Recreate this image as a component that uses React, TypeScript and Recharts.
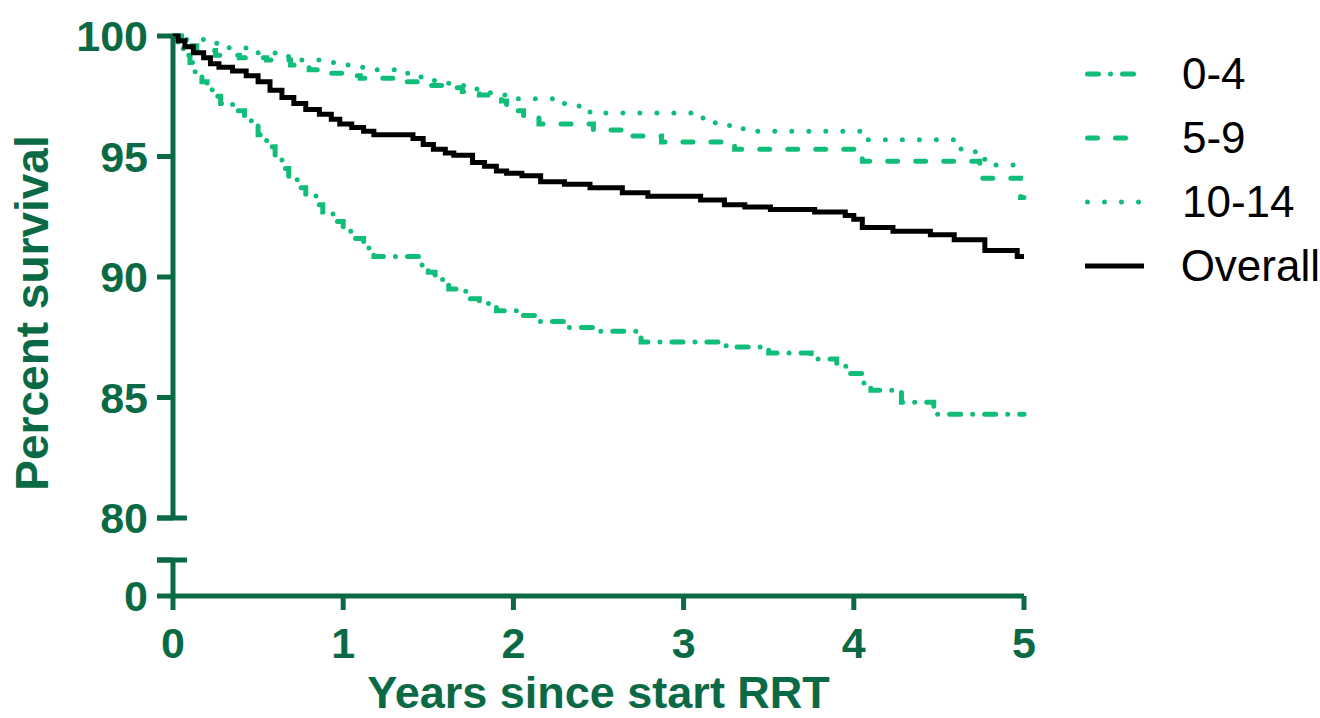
import React from 'react';
import { LineChart, Line, XAxis, YAxis, Legend, Label } from 'recharts';

const AXIS = '#0a6a45';
const GREEN = '#10be7a';
const FONT = '"Liberation Sans", Arial, Helvetica, sans-serif';

// Tick values
const xTicks = [0, 1, 2, 3, 4, 5];
const yTicksMain = [80, 85, 90, 95, 100];
const yTicksLow = [0, 1]; // 1 = top of the broken lower segment (no label)

// Kaplan-Meier curves (years, percent survival)
const tAge04 = [0, 0.03, 0.06, 0.1, 0.13, 0.17, 0.2, 0.23, 0.28, 0.35, 0.42, 0.46, 0.5, 0.55, 0.6, 0.64, 0.68, 0.73, 0.78, 0.84, 0.88, 0.94, 1.0, 1.06, 1.12, 1.18, 1.45, 1.5, 1.54, 1.62, 1.72, 1.8, 1.9, 2.05, 2.15, 2.3, 2.5, 2.75, 3.25, 3.5, 3.75, 3.9, 3.97, 4.05, 4.1, 4.28, 4.47, 5.0];
const sAge04 = [100, 99.6, 99.2, 98.9, 98.5, 98.1, 97.8, 97.5, 97.2, 96.9, 96.6, 96.3, 95.9, 95.4, 95.0, 94.5, 94.1, 93.7, 93.4, 93.0, 92.7, 92.3, 91.9, 91.6, 91.2, 90.85, 90.5, 90.2, 89.9, 89.5, 89.1, 88.9, 88.6, 88.4, 88.15, 87.9, 87.75, 87.3, 87.1, 86.85, 86.6, 86.3, 86.0, 85.6, 85.3, 84.8, 84.3, 84.3];

const tAge59 = [0, 0.05, 0.14, 0.25, 0.39, 0.55, 0.69, 0.8, 0.9, 1.05, 1.1, 1.35, 1.5, 1.6, 1.7, 1.8, 1.93, 1.96, 2.06, 2.15, 2.47, 2.7, 2.87, 3.3, 4.05, 4.74, 4.98, 5.0];
const sAge59 = [100, 99.6, 99.4, 99.2, 99.1, 99.0, 98.8, 98.6, 98.45, 98.35, 98.25, 98.1, 97.95, 97.85, 97.7, 97.55, 97.3, 96.9, 96.7, 96.35, 96.1, 95.85, 95.6, 95.3, 94.8, 94.1, 93.3, 93.3];

const tAge1014 = [0, 0.08, 0.2, 0.33, 0.45, 0.6, 0.75, 0.86, 0.95, 1.04, 1.2, 1.36, 1.45, 1.52, 1.62, 1.75, 1.85, 1.95, 2.02, 2.3, 2.45, 3.1, 3.18, 3.27, 3.35, 4.08, 4.63, 4.77, 5.0];
const sAge1014 = [100, 99.85, 99.7, 99.5, 99.3, 99.15, 99.0, 98.9, 98.8, 98.7, 98.6, 98.45, 98.3, 98.15, 97.95, 97.8, 97.65, 97.5, 97.4, 97.1, 96.8, 96.6, 96.4, 96.2, 96.05, 95.7, 95.2, 94.65, 94.65];

const tOverall = [0, 0.03, 0.07, 0.12, 0.18, 0.22, 0.27, 0.35, 0.43, 0.5, 0.57, 0.64, 0.71, 0.78, 0.86, 0.93, 0.98, 1.05, 1.12, 1.18, 1.41, 1.47, 1.53, 1.6, 1.65, 1.76, 1.83, 1.9, 1.96, 2.05, 2.16, 2.3, 2.45, 2.64, 2.79, 3.1, 3.24, 3.36, 3.51, 3.77, 3.95, 4.0, 4.05, 4.23, 4.45, 4.59, 4.77, 4.96, 5.0];
const sOverall = [100, 99.8, 99.55, 99.3, 99.1, 98.85, 98.7, 98.55, 98.35, 98.1, 97.75, 97.45, 97.2, 96.95, 96.75, 96.55, 96.35, 96.2, 96.05, 95.9, 95.75, 95.5, 95.3, 95.15, 95.05, 94.75, 94.6, 94.4, 94.3, 94.2, 93.95, 93.85, 93.7, 93.5, 93.35, 93.2, 93.0, 92.9, 92.8, 92.7, 92.55, 92.4, 92.05, 91.9, 91.75, 91.55, 91.1, 90.85, 90.85];

const zip = (t: number[], s: number[]) =>
  t.slice(0, Math.min(t.length, s.length)).map((x, i) => ({ t: x, v: s[i] }));

const series = [
  { name: '0-4', data: zip(tAge04, sAge04), color: GREEN, dash: '11 12 0 12' },
  { name: '5-9', data: zip(tAge59, sAge59), color: GREEN, dash: '10 18' },
  { name: '10-14', data: zip(tAge1014, sAge1014), color: GREEN, dash: '0 17' },
  { name: 'Overall', data: zip(tOverall, sOverall), color: '#000000', dash: undefined as string | undefined },
];

const TICK_SIZE = 16;
const TICK_MARGIN = 9;
const TICK_FONT = 43;

const makeYTick = (capValue: number, hideValue?: number) => (props: any) => {
  const { x, y, payload } = props;
  const axisX = x + TICK_SIZE + TICK_MARGIN;
  const val = payload.value;
  return (
    <g>
      {val === capValue && (
        <line x1={axisX - TICK_SIZE} y1={y} x2={axisX + 14} y2={y} stroke={AXIS} strokeWidth={5} />
      )}
      {val !== hideValue && (
        <text
          x={x}
          y={y}
          dy="0.355em"
          textAnchor="end"
          fill={AXIS}
          fontFamily={FONT}
          fontWeight="bold"
          fontSize={TICK_FONT}
        >
          {val}
        </text>
      )}
    </g>
  );
};

const renderLegend = () => (
  <div style={{ fontFamily: FONT }}>
    {series.map((s) => (
      <div key={s.name} style={{ display: 'flex', alignItems: 'center', height: 64 }}>
        <svg width={60} height={10} style={{ display: 'block' }}>
          <line
            x1={s.dash ? 2.5 : 0}
            y1={5}
            x2={s.dash ? 57.5 : 60}
            y2={5}
            stroke={s.color}
            strokeWidth={5}
            strokeDasharray={s.dash}
            strokeLinecap={s.dash ? 'round' : 'butt'}
          />
        </svg>
        <span style={{ marginLeft: 37, fontSize: 44, color: '#000', lineHeight: '64px', whiteSpace: 'nowrap' }}>
          {s.name}
        </span>
      </div>
    ))}
  </div>
);

export default function App() {
  return (
    <div style={{ position: 'absolute', left: 0, top: 0, width: 1320, height: 718, background: '#fff', overflow: 'hidden' }}>
      {/* lower (broken) segment with x axis */}
      <div style={{ position: 'absolute', left: 0, top: 0 }}>
        <LineChart width={1320} height={718} data={series[3].data} margin={{ top: 560, right: 296, bottom: 0, left: 0 }}>
          <XAxis
            type="number"
            dataKey="t"
            domain={[0, 5]}
            ticks={xTicks}
            height={122}
            tickSize={14}
            tickMargin={17}
            stroke={AXIS}
            strokeWidth={5}
            tickLine={{ stroke: AXIS, strokeWidth: 5 }}
            axisLine={{ stroke: AXIS, strokeWidth: 5 }}
            tick={{ fill: AXIS, fontSize: TICK_FONT, fontWeight: 'bold', fontFamily: FONT }}
          >
            <Label
              value="Years since start RRT"
              position="insideBottom"
              offset={10}
              fill={AXIS}
              fontSize={45}
              fontWeight="bold"
              fontFamily={FONT}
            />
          </XAxis>
          <YAxis
            type="number"
            domain={[0, 1]}
            ticks={yTicksLow}
            width={173}
            tickSize={TICK_SIZE}
            tickMargin={TICK_MARGIN}
            axisLine={{ stroke: AXIS, strokeWidth: 5 }}
            tickLine={{ stroke: AXIS, strokeWidth: 5 }}
            tick={makeYTick(1, 1)}
            allowDataOverflow
          />
        </LineChart>
      </div>
      {/* main segment 80-100 */}
      <div style={{ position: 'absolute', left: 0, top: 0 }}>
        <LineChart width={1320} height={718} margin={{ top: 36, right: 296, bottom: 200, left: 0 }}>
          <XAxis type="number" dataKey="t" domain={[0, 5]} ticks={xTicks} hide />
          <YAxis
            type="number"
            domain={[80, 100]}
            ticks={yTicksMain}
            width={173}
            tickSize={TICK_SIZE}
            tickMargin={TICK_MARGIN}
            axisLine={{ stroke: AXIS, strokeWidth: 5 }}
            tickLine={{ stroke: AXIS, strokeWidth: 5 }}
            tick={makeYTick(80)}
          >
            <Label
              content={() => (
                <text
                  transform="translate(48, 313) rotate(-90)"
                  textAnchor="middle"
                  fill={AXIS}
                  fontFamily={FONT}
                  fontWeight="bold"
                  fontSize={46}
                >
                  Percent survival
                </text>
              )}
            />
          </YAxis>
          {series.map((s) => (
            <Line
              key={s.name}
              data={s.data}
              dataKey="v"
              name={s.name}
              type="stepAfter"
              stroke={s.color}
              strokeWidth={5}
              strokeDasharray={s.dash}
              strokeLinecap={s.dash ? 'round' : 'butt'}
              dot={false}
              activeDot={false}
              isAnimationActive={false}
            />
          ))}
          <Legend
            layout="vertical"
            align="center"
            verticalAlign="middle"
            wrapperStyle={{ left: 1085, top: 42, width: 235 }}
            content={renderLegend}
          />
        </LineChart>
      </div>
    </div>
  );
}
